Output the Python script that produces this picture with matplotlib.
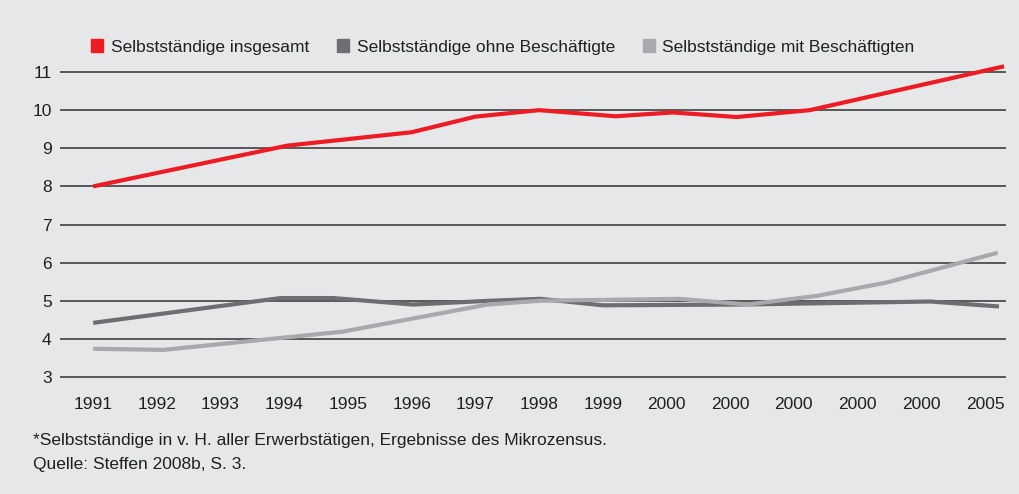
import numpy as np
import matplotlib.pyplot as plt
from matplotlib.patches import Patch

plt.rcParams['font.family'] = ['Liberation Sans', 'DejaVu Sans']

# x labels (category axis) and series, x given in category index units
years = ['1991', '1992', '1993', '1994', '1995', '1996', '1997', '1998', '1999',
         '2000', '2000', '2000', '2000', '2000', '2005']

x_gesamt = [0, 3.05, 5.0, 6.0, 7.0, 8.2, 9.1, 10.1, 11.25, 14.3]
y_gesamt = [8.0, 9.07, 9.42, 9.83, 10.0, 9.84, 9.94, 9.82, 10.0, 11.15]

x_ohne = [0, 2.94, 3.77, 5.02, 6.23, 7.02, 8.0, 10.16, 13.14, 14.22]
y_ohne = [4.42, 5.07, 5.07, 4.9, 5.0, 5.05, 4.88, 4.9, 4.98, 4.85]

x_mit = [0, 1.1, 3.92, 6.19, 7.02, 9.21, 10.27, 11.37, 12.46, 14.2]
y_mit = [3.74, 3.71, 4.19, 4.9, 5.0, 5.05, 4.9, 5.13, 5.48, 6.26]

bg = '#e6e7e8'
c_red = '#ed1c24'
c_dark = '#6d6e71'
c_light = '#a7a9ac'
fs = 12.5

fig = plt.figure(figsize=(10.2, 4.94), dpi=100, facecolor=bg)
ax = fig.add_axes([60/1020, 1 - 384.6/494, 946/1020, (384.6 - 60.6)/494])
ax.set_facecolor(bg)

ax.plot(x_gesamt, y_gesamt, color=c_red, lw=3, solid_capstyle='butt', zorder=4)
ax.plot(x_ohne, y_ohne, color=c_dark, lw=3, solid_capstyle='butt', zorder=3)
ax.plot(x_mit, y_mit, color=c_light, lw=3, solid_capstyle='butt', zorder=3.5)

ax.set_xlim(-0.52, 14.33)
ax.set_ylim(2.8, 11.3)
ax.set_yticks(range(3, 12))
ax.set_xticks(range(len(years)))
ax.set_xticklabels(years)
ax.yaxis.grid(True, color='#4d4d4f', lw=1.3)
ax.set_axisbelow(True)
for s in ax.spines.values():
    s.set_visible(False)
ax.tick_params(axis='both', length=0, labelsize=fs, colors='#231f20')
ax.tick_params(axis='y', pad=6)
ax.tick_params(axis='x', pad=9)

handles = [Patch(color=c_red, label='Selbstständige insgesamt'),
           Patch(color=c_dark, label='Selbstständige ohne Beschäftigte'),
           Patch(color=c_light, label='Selbstständige mit Beschäftigten')]
leg = fig.legend(handles=handles, loc='center left', bbox_to_anchor=(84/1020, 1 - 47/494),
                 ncol=3, frameon=False, fontsize=fs, handlelength=0.72, handleheight=0.78,
                 handletextpad=0.42, columnspacing=1.6, borderaxespad=0)
for t in leg.get_texts():
    t.set_color('#231f20')

fig.text(33/1020, 1 - 440/494, '*Selbstständige in v. H. aller Erwerbstätigen, Ergebnisse des Mikrozensus.',
         fontsize=fs, color='#231f20', va='center')
fig.text(33/1020, 1 - 465/494, 'Quelle: Steffen 2008b, S. 3.',
         fontsize=fs, color='#231f20', va='center')

fig.savefig('out.png', dpi=100, facecolor=bg)
